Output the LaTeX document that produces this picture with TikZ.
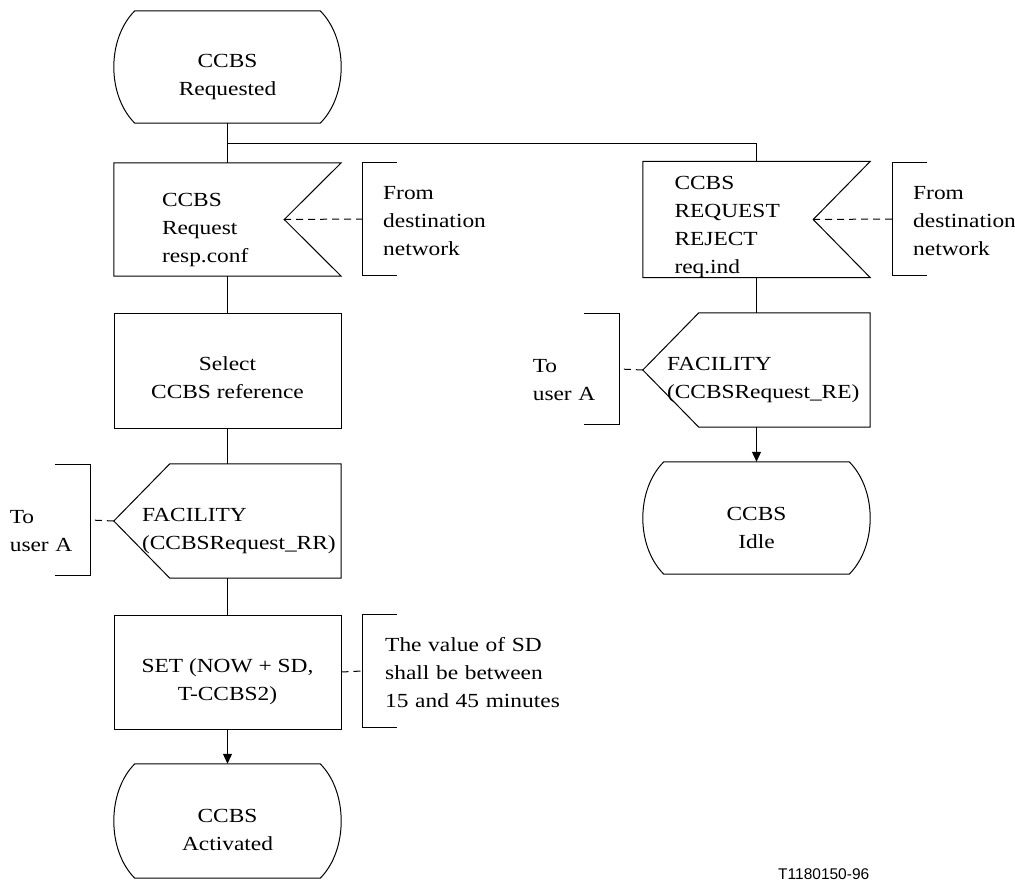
\documentclass[tikz,border=0pt]{standalone}
\usepackage{fontspec}
\setmainfont{Liberation Serif}[FakeStretch=1.17]
\newfontfamily\labelfont{Liberation Sans}
\usetikzlibrary{arrows.meta}

\newcommand\sdlstate[1]{\draw[ln] ([xshift=21pt]#1.north west) -- ([xshift=-21pt]#1.north east)
  .. controls ([xshift=7pt,yshift=-28pt]#1.north east) and ([xshift=7pt,yshift=28pt]#1.south east) .. ([xshift=-21pt]#1.south east)
  -- ([xshift=21pt]#1.south west)
  .. controls ([xshift=-7pt,yshift=28pt]#1.south west) and ([xshift=-7pt,yshift=-28pt]#1.north west) .. ([xshift=21pt]#1.north west) -- cycle;}
\newcommand\sdlinput[1]{\draw[ln] (#1.north west) -- (#1.north east) -- ([xshift=-57pt]#1.east) -- (#1.south east) -- (#1.south west) -- cycle;}
\newcommand\sdloutput[1]{\draw[ln] (#1.west) -- ([xshift=56pt]#1.north west) -- (#1.north east) -- (#1.south east) -- ([xshift=56pt]#1.south west) -- cycle;}
\newcommand\cmtbrR[1]{\draw[ln] ([xshift=35pt]#1.north west) -- (#1.north west) -- (#1.south west) -- ([xshift=35pt]#1.south west);}
\newcommand\cmtbrL[1]{\draw[ln] ([xshift=-35pt]#1.north east) -- (#1.north east) -- (#1.south east) -- ([xshift=-35pt]#1.south east);}
\newcommand\txtpush[1]{\rule{0pt}{#1}}

\tikzset{
  ln/.style={line width=1pt, line join=miter},
  dsh/.style={line width=1pt, dash pattern=on 7pt off 5pt},
  arr/.style={-{Triangle[length=10pt,width=9pt]}},
  txt/.style={font=\fontsize{20pt}{28pt}\selectfont},
  sym/.style={txt, inner sep=0pt, minimum width=227pt, minimum height=113pt},
  statebox/.style={sym, align=center, minimum height=112pt},
  taskbox/.style={sym, align=center, draw, ln},
  inbox/.style={sym, align=left},
  outbox/.style={sym, align=left, minimum height=114pt},
  cmtR/.style={txt, anchor=west, align=left, inner ysep=0pt, inner xsep=21pt, text width=150pt, minimum height=112pt},
  cmtL/.style={txt, anchor=east, align=left, inner sep=0pt, minimum height=111pt},
}

\begin{document}
\begin{tikzpicture}[x=1pt,y=-1pt]
\useasboundingbox (0,0) rectangle (1015,883);

% left column
\node[statebox] (s1) at (227.5,67) {\txtpush{33.5pt}CCBS\\Requested};
\node[inbox, inner xsep=48pt, text width=131pt] (in1) at (227.5,219.5) {\txtpush{34.5pt}CCBS\\Request\\resp.conf};
\node[cmtR] (c1) at (362,219) {\txtpush{17pt}From\\destination\\network};
\node[taskbox, minimum height=115pt] (t1) at (227.5,370.5) {\txtpush{29pt}Select\\CCBS reference};
\node[outbox, inner xsep=28pt, text width=171pt] (o1) at (227.5,521) {\txtpush{34pt}FACILITY\\(CCBSRequest\_RR)};
\node[cmtL, text width=80pt] (c4) at (90,520) {\txtpush{36pt}To\\user A};
\node[taskbox, minimum height=114pt] (t2) at (227.5,672) {\txtpush{33.5pt}SET (NOW + SD,\\T-CCBS2)};
\node[cmtR, inner xsep=23pt, text width=190pt] (c5) at (362,671) {\txtpush{17.5pt}The value of SD\\shall be between\\15 and 45 minutes};
\node[statebox, minimum height=114pt] (act) at (227.5,821) {\txtpush{32pt}CCBS\\Activated};

% right column
\node[inbox, inner xsep=31pt, text width=164pt] (in2) at (756.5,219.5) {\txtpush{27.5pt}CCBS\\REQUEST\\REJECT\\req.ind};
\node[cmtR, text width=110pt] (c2) at (892,219) {\txtpush{17pt}From\\destination\\network};
\node[outbox, inner xsep=24pt, text width=179pt] (o2) at (756.5,370) {\txtpush{34pt}FACILITY\\(CCBSRequest\_RE)};
\node[cmtL, text width=86pt] (c3) at (619,369) {\txtpush{35.5pt}To\\user A};
\node[statebox] (idle) at (756.5,518) {\txtpush{33.5pt}CCBS\\Idle};

\node[font=\labelfont\fontsize{15.5pt}{18pt}\selectfont, anchor=base west, inner sep=0pt] (fig) at (778,879) {T1180150-96};

% outlines
\sdlstate{s1}
\sdlstate{act}
\sdlstate{idle}
\sdlinput{in1}
\sdlinput{in2}
\sdloutput{o1}
\sdloutput{o2}
\cmtbrR{c1}
\cmtbrR{c2}
\cmtbrR{c5}
\cmtbrL{c3}
\cmtbrL{c4}

\coordinate (in1tip) at ([xshift=-57pt]in1.east);
\coordinate (in2tip) at ([xshift=-57pt]in2.east);
\coordinate (br) at (227.5,143);

% connectors
\draw[ln] (s1.south) -- (in1.north);
\draw[ln] (br) -| (in2.north);
\draw[ln] (in1.south) -- (t1.north);
\draw[ln] (t1.south) -- (o1.north);
\draw[ln] (o1.south) -- (t2.north);
\draw[ln, arr] (t2.south) -- (act.north);
\draw[ln] (in2.south) -- (o2.north);
\draw[ln, arr] (o2.south) -- (idle.north);

\draw[dsh] (in1tip) -- (c1.west);
\draw[dsh] (in2tip) -- (c2.west);
\draw[dsh] (o1.west) -- (c4.east);
\draw[dsh] (o2.west) -- (c3.east);
\draw[dsh] (t2.east) -- (c5.west);
\end{tikzpicture}
\end{document}
